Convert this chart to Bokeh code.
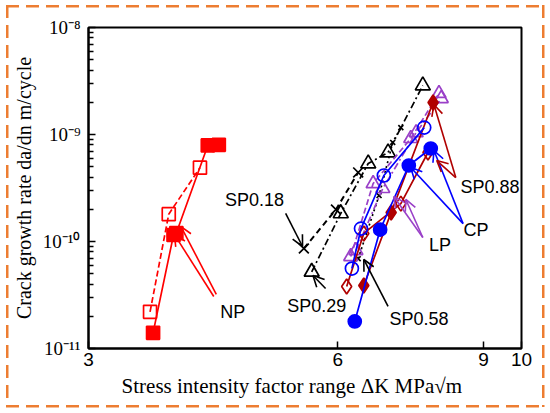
from bokeh.plotting import figure
from bokeh.models import FixedTicker, Arrow, OpenHead, CustomJSTickFormatter
from bokeh.core.properties import value
from bokeh.embed import file_html
from bokeh.resources import INLINE

# ---------------- data ----------------
np_filled_x = [3.59, 3.80, 3.83, 4.18, 4.31]
np_filled_y = [1.4e-11, 1.15e-10, 1.2e-10, 7.9e-10, 8.0e-10]
np_open_x = [3.56, 3.75, 4.09]
np_open_y = [2.2e-11, 1.8e-10, 4.9e-10]

sp018_x = [5.46, 5.97, 6.35]
sp018_y = [8.6e-11, 1.99e-10, 4.42e-10]

sp029_x = [5.58, 6.05, 6.53, 6.90, 7.60]
sp029_y = [5.2e-11, 1.83e-10, 5.36e-10, 6.79e-10, 2.87e-9]

sp058_x = [6.35, 6.73, 6.99, 7.15]
sp058_y = [6.9e-11, 2.69e-10, 8.42e-10, 1.16e-9]

cp_filled_x = [6.29, 6.75, 7.31, 7.77]
cp_filled_y = [1.79e-11, 1.29e-10, 5.13e-10, 7.40e-10]
cp_open_x = [6.24, 6.40, 6.82, 7.63]
cp_open_y = [5.59e-11, 1.32e-10, 4.14e-10, 1.16e-9]

lp1_x = [6.22, 6.62, 7.35, 7.95]
lp1_y = [7.24e-11, 3.48e-10, 9.18e-10, 2.42e-9]
lp2_x = [6.31, 6.80, 7.46, 8.00]
lp2_y = [8.24e-11, 3.13e-10, 1.04e-9, 2.17e-9]

sp088_filled_x = [6.45, 6.96, 7.82]
sp088_filled_y = [3.88e-11, 1.87e-10, 1.99e-9]
sp088_open_x = [6.15, 6.45, 7.15, 7.71]
sp088_open_y = [3.80e-11, 1.19e-10, 2.26e-10, 6.79e-10]

# annotation labels
label_text = ["NP", "SP0.18", "SP0.29", "SP0.58", "LP", "CP", "SP0.88"]
label_x = [4.48, 4.76, 5.66, 7.52, 7.97, 8.81, 9.16]
label_y = [2.17e-11, 2.42e-10, 2.52e-11, 1.87e-11, 9.18e-11, 1.29e-10, 3.20e-10]

# annotation arrows: (x_start, y_start, x_end, y_end, colour)
arrows = [
    (4.25, 3.06e-11, 3.81, 1.16e-10, "#ff0000"),
    (4.28, 3.20e-11, 3.88, 1.38e-10, "#ff0000"),
    (5.19, 1.83e-10, 5.44, 8.98e-11, "black"),
    (5.80, 3.64e-11, 5.60, 4.81e-11, "black"),
    (6.90, 2.47e-11, 6.45, 6.79e-11, "black"),
    (7.60, 1.09e-10, 7.01, 2.63e-10, "#9a40c8"),
    (7.60, 1.09e-10, 7.25, 2.47e-10, "#9a40c8"),
    (8.50, 1.47e-10, 7.35, 4.92e-10, "#0000ff"),
    (8.50, 1.47e-10, 7.84, 7.08e-10, "#0000ff"),
    (8.33, 3.96e-10, 7.84, 1.90e-9, "#b00000"),
    (8.33, 3.96e-10, 7.90, 5.71e-10, "#b00000"),
]

x_ticks = [3, 6, 9, 10]
y_ticks = [1e-11, 1e-10, 1e-9, 1e-8]
y_minor = [k * t for t in y_ticks[:-1] for k in range(2, 10)]

x_title = "Stress intensity factor range \u0394K MPa\u221am" + "\u00a0" * 5
y_title = "Crack growth rate da/dn m/cycle"

RED = "#ff0000"
BLUE = "#0000ff"
PURPLE = "#9a40c8"
DRED = "#b00000"
ORANGE = "#ED7D31"

W, H = 546, 410
p = figure(width=W, height=H, x_axis_type="log", y_axis_type="log",
           x_range=(3, 10), y_range=(1e-11, 1e-8),
           output_backend="svg", toolbar_location=None,
           min_border_left=88, min_border_right=25,
           min_border_top=27, min_border_bottom=62)
p.xgrid.visible = False
p.ygrid.visible = False
p.outline_line_color = "black"
p.outline_line_width = 2
p.outline_line_alpha = 1
p.background_fill_color = "white"
p.border_fill_alpha = 0

# dashed orange frame round the whole picture (CSS on the plot element)
gh = f"repeating-linear-gradient(90deg, {ORANGE} 0px 13px, transparent 13px 20px)"
gv = f"repeating-linear-gradient(180deg, {ORANGE} 0px 13px, transparent 13px 20px)"
p.styles = {
    "background-color": "white",
    "background-image": ", ".join([gh, gh, gv, gv]),
    "background-size": "538px 2.5px, 538px 2.5px, 2.5px 402px, 2.5px 402px",
    "background-position": "6px 5px, 6px 405px, 6px 5px, 541.5px 5px",
    "background-repeat": "no-repeat",
}

# x axis
p.xaxis.ticker = FixedTicker(ticks=x_ticks, minor_ticks=[])
p.xaxis.major_label_overrides = {3: "3", 6: "6", 9: "9", 10: "10"}
p.xaxis.axis_line_width = 2
p.xaxis.major_tick_in = 7
p.xaxis.major_tick_out = 0
p.xaxis.major_tick_line_width = 1.5
p.xaxis.major_label_text_font = "Liberation Sans"
p.xaxis.major_label_text_font_size = "19px"
p.xaxis.major_label_text_color = "black"
p.xaxis.major_label_standoff = 4
p.xaxis.axis_label = x_title
p.xaxis.axis_label_text_font = "Liberation Serif"
p.xaxis.axis_label_text_font_size = "21px"
p.xaxis.axis_label_text_font_style = "normal"
p.xaxis.axis_label_text_color = "black"
p.xaxis.axis_label_standoff = 5

# y axis
p.yaxis.ticker = FixedTicker(ticks=y_ticks, minor_ticks=y_minor)
p.yaxis.formatter = CustomJSTickFormatter(code="""
const sup = {'-':'\u207b','0':'\u2070','1':'\u00b9','2':'\u00b2','3':'\u00b3','4':'\u2074',
             '5':'\u2075','6':'\u2076','7':'\u2077','8':'\u2078','9':'\u2079'};
const e = Math.round(Math.log10(tick));
return '10' + String(e).split('').map(c => sup[c]).join('');
""")
p.yaxis.axis_line_width = 2
p.yaxis.major_tick_in = 7
p.yaxis.major_tick_out = 0
p.yaxis.minor_tick_in = 5
p.yaxis.minor_tick_out = 0
p.yaxis.major_tick_line_width = 1.5
p.yaxis.minor_tick_line_width = 1.5
p.yaxis.major_label_text_font = "Liberation Serif"
p.yaxis.major_label_text_font_size = "19px"
p.yaxis.major_label_text_color = "black"
p.yaxis.major_label_standoff = 8
p.yaxis.axis_label = y_title
p.yaxis.axis_label_text_font = "Liberation Serif"
p.yaxis.axis_label_text_font_size = "20px"
p.yaxis.axis_label_text_font_style = "normal"
p.yaxis.axis_label_text_color = "black"
p.yaxis.axis_label_standoff = 5

# ---------------- series ----------------
def series(xs, ys, color, marker, filled, dash, size, lw=1.7):
    p.line(xs, ys, line_color=color, line_width=lw, line_dash=dash)
    p.scatter(xs, ys, marker=marker, size=size, line_color=color, line_width=1.7,
              fill_color=color if filled else None)

series(sp018_x, sp018_y, "black", "x", False, "6 4", 14, 2)
series(sp029_x, sp029_y, "black", "triangle", False, "7 3 2 3", 15)
series(sp058_x, sp058_y, "black", "x", False, "2 3", 7)
series(lp1_x, lp1_y, PURPLE, "triangle", False, "6 3", 14)
series(lp2_x, lp2_y, PURPLE, "triangle", False, "7 3 2 3", 14)
series(sp088_open_x, sp088_open_y, DRED, "diamond", False, "solid", 15)
series(sp088_filled_x, sp088_filled_y, DRED, "diamond", True, "solid", 15)
series(cp_open_x, cp_open_y, BLUE, "circle", False, "solid", 13)
series(cp_filled_x, cp_filled_y, BLUE, "circle", True, "solid", 13)
series(np_open_x, np_open_y, RED, "square", False, "6 3", 13)
series(np_filled_x, np_filled_y, RED, "square", True, "solid", 13)

for xs, ys, xe, ye, c in arrows:
    p.add_layout(Arrow(x_start=xs, y_start=ys, x_end=xe, y_end=ye,
                       line_color=c, line_width=1.6,
                       end=OpenHead(size=11, line_color=c, line_width=1.6)))

p.text(x=label_x, y=label_y, text=label_text,
       text_font=value("Liberation Sans"), text_font_size="18px",
       text_color="black", text_align="center", text_baseline="middle")

open("out.html", "w").write(file_html(p, INLINE))
